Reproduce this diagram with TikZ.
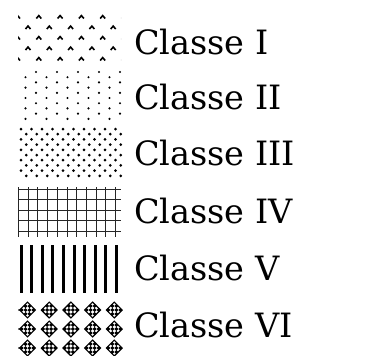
\documentclass[tikz,border=0pt]{standalone}
\usepackage{fontspec}
\setmainfont{DejaVu Serif}
\begin{document}
\begin{tikzpicture}[x=1pt,y=-1pt]
\useasboundingbox (0,0) rectangle (375,359);
\tikzset{
  lbl/.style={anchor=base west, inner sep=0pt, font=\fontsize{33.5}{40}\selectfont},
  caretmark/.style={line width=1.6pt},
  dotmark/.style={fill=black},
  gridline/.style={line width=0.9pt, black!85},
  barmark/.style={fill=black},
}
% Classe I : small carets
\begin{scope}
\clip (18,10) rectangle (121,63);
\foreach \r in {0,...,4}{
  \pgfmathsetmacro\yy{17+10.5*\r}
  \pgfmathsetmacro\off{mod(\r,2)==0 ? 17.5 : 28}
  \foreach \k in {0,...,5}{
    \draw[caretmark] (\off+21.3*\k-2.5,\yy+1.5) -- (\off+21.3*\k,\yy-1.4) -- (\off+21.3*\k+2.5,\yy+1.5);
  }
}
\end{scope}
% Classe II : sparse dots
\begin{scope}
\clip (18,66) rectangle (122,122);
\foreach \r in {0,...,9}{
  \pgfmathsetmacro\yy{72+5.2*\r}
  \pgfmathsetmacro\off{mod(\r,2)==0 ? 36 : 25.5}
  \foreach \k in {0,...,4}{
    \fill[dotmark] (\off+21*\k,\yy) circle (1.2);
  }
}
\end{scope}
% Classe III : dense dots
\begin{scope}
\clip (18,125) rectangle (122,180);
\foreach \r in {0,...,9}{
  \pgfmathsetmacro\yy{129+5.2*\r}
  \pgfmathsetmacro\off{mod(\r,2)==0 ? 21 : 26.25}
  \foreach \k in {0,...,9}{
    \fill[dotmark] (\off+10.5*\k,\yy) circle (1.5);
  }
}
\end{scope}
% Classe IV : grid
\foreach \i in {0,...,10}{
  \draw[gridline] (18.5+9.7*\i,187) -- (18.5+9.7*\i,237);
}
\foreach \j in {0,...,4}{
  \draw[gridline] (18,189+10.5*\j) -- (121,189+10.5*\j);
}
% Classe V : vertical bars
\foreach \i in {0,...,9}{
  \fill[barmark] (19.5+10.6*\i,245) rectangle (22.5+10.6*\i,293);
}
% Classe VI : checkered diamonds
\begin{scope}
\clip (15,298) rectangle (124,355);
\foreach \r in {0,1,2}{
  \pgfmathsetmacro\yy{310+19*\r}
  \fill (19,\yy) circle (0.9);
  \foreach \k in {0,...,4}{
    \pgfmathsetmacro\xx{27.5+21.7*\k}
    \begin{scope}[shift={(\xx,\yy)}, rotate=45]
      \foreach \a in {0,...,3}{
        \foreach \b in {0,...,3}{
          \pgfmathtruncatemacro\chk{mod(\a+\b,2)}
          \ifnum\chk=0
            \fill (-5.6+2.8*\a,-5.6+2.8*\b) rectangle ++(2.8,2.8);
          \fi
        }
      }
      \draw[line width=1.1pt] (-5.6,-5.6) rectangle (5.6,5.6);
    \end{scope}
  }
}
\end{scope}
% Labels
\node[lbl] (c1) at (134,54) {Classe I};
\node[lbl] (c2) at (134,109) {Classe II};
\node[lbl] (c3) at (134,165) {Classe III};
\node[lbl] (c4) at (134,223) {Classe IV};
\node[lbl] (c5) at (134,280) {Classe V};
\node[lbl] (c6) at (134,337) {Classe VI};
\end{tikzpicture}
\end{document}
